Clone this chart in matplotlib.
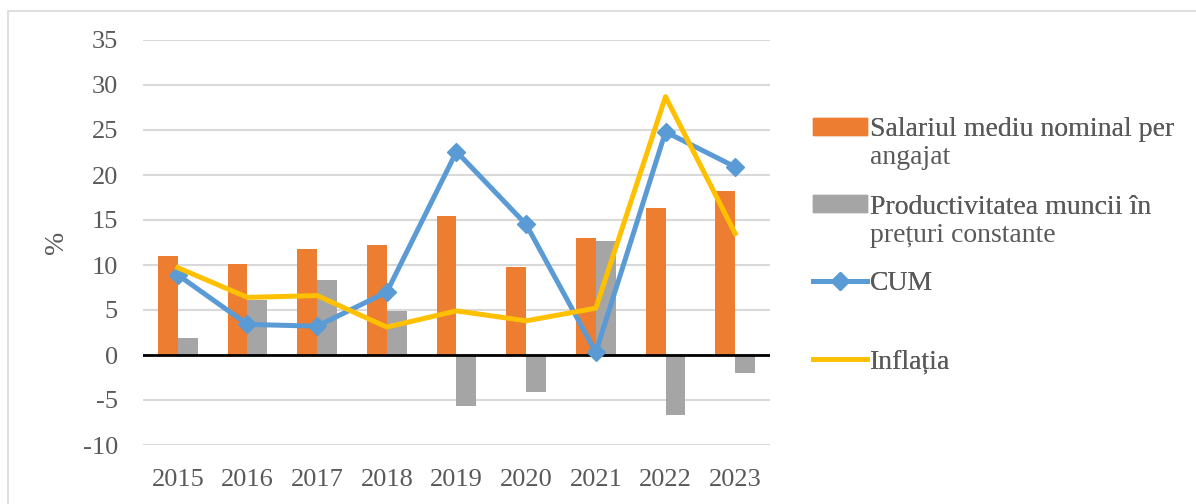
import numpy as np
import matplotlib
matplotlib.use('Agg')
from matplotlib import pyplot as plt
from matplotlib.lines import Line2D
from matplotlib.patches import Patch, Rectangle

years = ['2015', '2016', '2017', '2018', '2019', '2020', '2021', '2022', '2023']
salariul = [11.0, 10.1, 11.8, 12.2, 15.4, 9.8, 13.0, 16.3, 18.2]
productivitatea = [1.9, 6.1, 8.3, 4.9, -5.7, -4.1, 12.7, -6.7, -2.0]
cum = [8.9, 3.4, 3.2, 7.0, 22.6, 14.5, 0.3, 24.8, 20.9]
inflatia = [9.7, 6.4, 6.6, 3.1, 4.9, 3.8, 5.2, 28.7, 13.5]

# legend labels, split into first and second line
labels = [('Salariul mediu nominal per', 'angajat'),
          ('Productivitatea muncii în', 'prețuri constante'),
          ('CUM', None),
          ('Inflația', None)]

ORANGE = '#ED7D31'
GRAY = '#A5A5A5'
BLUE = '#5B9BD5'
YELLOW = '#FFC000'
TXT = '#595959'
FS = 20

plt.rcParams['font.family'] = ['Liberation Serif', 'DejaVu Serif']
plt.rcParams['axes.unicode_minus'] = False

fig = plt.figure(figsize=(11.96, 5.04), dpi=100)
ax = fig.add_axes([143 / 1196, 59 / 504, 627 / 1196, 405 / 504])

x = np.arange(len(years))
w = 0.285
ax.bar(x - w / 2, salariul, w, color=ORANGE, zorder=2)
ax.bar(x + w / 2, productivitatea, w, color=GRAY, zorder=2)
ax.axhline(0, color='black', lw=2, zorder=3)
ax.plot(x, cum, color=BLUE, lw=3.6, marker='D', ms=9, zorder=4,
        solid_joinstyle='round')
ax.plot(x, inflatia, color=YELLOW, lw=3.6, zorder=5, solid_joinstyle='round')

ax.set_xlim(-0.5, len(years) - 0.5)
ax.set_ylim(-10, 35)
ax.set_yticks(np.arange(-10, 36, 5))
ax.set_xticks(x)
ax.set_xticklabels(years)
ax.grid(axis='y', color='#D9D9D9', lw=1.5, zorder=0)
ax.set_axisbelow(True)
for s in ax.spines.values():
    s.set_visible(False)
ax.tick_params(length=0, labelsize=19, colors=TXT)
ax.tick_params(axis='y', pad=18)
ax.tick_params(axis='x', pad=17)
ax.set_ylabel('%', fontsize=FS, color=TXT)
ax.yaxis.set_label_coords(-0.118, 0.5)

# legend entries, one box each so the vertical slots follow the reference
handles = [Patch(color=ORANGE), Patch(color=GRAY),
           Line2D([], [], color=BLUE, lw=3.6, marker='D', ms=9),
           Line2D([], [], color=YELLOW, lw=3.6)]
ypos = [130, 207, 284, 362]
legends = []
for h, (lab, _), yp in zip(handles, labels, ypos):
    lg = fig.legend([h], [lab], loc='center left',
                    bbox_to_anchor=(799 / 1196, 1 - yp / 504),
                    frameon=False, fontsize=FS, handlelength=1.95,
                    handleheight=0.55, handletextpad=0.1, borderpad=0,
                    labelcolor=TXT)
    fig.add_artist(lg)
    legends.append(lg)

fig.canvas.draw()
for lg, (_, second) in zip(legends, labels):
    if second is None:
        continue
    bb = lg.get_texts()[0].get_window_extent()
    fig.text(bb.x0 / 1196, (bb.y0 - 28) / 504, second, fontsize=FS,
             color=TXT, va='bottom', ha='left')

fig.add_artist(Rectangle((8 / 1196, -0.1), 1.2, (504 - 11) / 504 + 0.1,
                         transform=fig.transFigure, fill=False,
                         edgecolor='#D9D9D9', lw=1.2))

fig.savefig('out.png', dpi=100)
